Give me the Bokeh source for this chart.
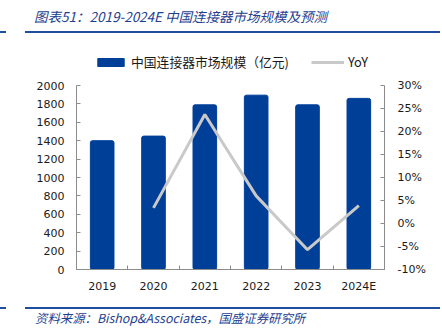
from bokeh.plotting import figure
from bokeh.models import (Range1d, LinearAxis, FixedTicker, PrintfTickFormatter,
                          Legend, LegendItem, ColumnDataSource, Div)
from bokeh.layouts import column
from bokeh.embed import file_html
from bokeh.resources import INLINE

years = ["2019", "2020", "2021", "2022", "2023", "2024E"]
market = [1400, 1450, 1790, 1895, 1790, 1860]
yoy_years = ["2020", "2021", "2022", "2023", "2024E"]
yoy = [3.4, 23.7, 6.0, -5.7, 3.9]

left_ticks = list(range(0, 2001, 200))
right_ticks = list(range(-10, 31, 5))

title_text = "图表51：2019-2024E 中国连接器市场规模及预测"
source_text = "资料来源：Bishop&Associates，国盛证券研究所"
bar_name = "中国连接器市场规模（亿元)"
line_name = "YoY"

BLUE = "#003F98"
GRAY = "#C9C9C9"
AX = "#8C8C8C"
TXT = "#1A1A1A"
HEAD = "#1F3F8F"
RULE = "#1F4E9E"

# layout (pixels)
HEAD_H = 40          # header div height
FIG_H = 260          # figure height
FOOT_H = 331 - HEAD_H - FIG_H
PLOT_TOP = 85        # y of 2000 / 30% in window
PLOT_BOT = 269       # y of 0 / -10% in window
FRAME_TOP = HEAD_H + 5
axis_px = PLOT_BOT - PLOT_TOP
frame_px = PLOT_BOT - FRAME_TOP
y0, y1 = left_ticks[0], left_ticks[-1]
r0, r1 = right_ticks[0], right_ticks[-1]
y_end = y0 + (y1 - y0) * frame_px / axis_px
r_end = r0 + (r1 - r0) * frame_px / axis_px

xpos = {y: i + 1 for i, y in enumerate(years)}
bar_src = ColumnDataSource(dict(x=[xpos[y] for y in years], v=market))
line_src = ColumnDataSource(dict(x=[xpos[y] for y in yoy_years], v=yoy))

p = figure(width=442, height=FIG_H, output_backend="svg", toolbar_location=None,
           x_range=Range1d(0.5, len(years) + 0.5), y_range=Range1d(y0, y_end),
           min_border_left=76, min_border_right=58,
           min_border_top=FRAME_TOP - HEAD_H,
           min_border_bottom=HEAD_H + FIG_H - PLOT_BOT,
           x_axis_type=None, y_axis_type=None, margin=0)
p.outline_line_color = None
p.xgrid.visible = False
p.ygrid.visible = False
p.background_fill_color = "white"
p.border_fill_color = "white"

p.extra_y_ranges = {"yoy": Range1d(r0, r_end)}

bars = p.vbar(x="x", top="v", width=0.46, source=bar_src, fill_color=BLUE,
              line_color=BLUE, border_radius=2)
ln = p.line(x="x", y="v", source=line_src, y_range_name="yoy", line_color=GRAY,
            line_width=3)

def style(ax, size="11px"):
    ax.axis_line_color = AX
    ax.major_tick_line_color = AX
    ax.minor_tick_line_color = AX
    ax.major_label_text_font = "DejaVu Sans"
    ax.major_label_text_font_size = size
    ax.major_label_text_color = TXT

xax = LinearAxis(ticker=FixedTicker(ticks=list(range(1, len(years) + 1)),
                                    minor_ticks=[i + 0.5 for i in range(len(years) + 1)]))
xax.major_label_overrides = {i + 1: y for i, y in enumerate(years)}
style(xax)
xax.major_tick_in = 0
xax.major_tick_out = 0
xax.minor_tick_in = 4
xax.minor_tick_out = 0
xax.major_label_standoff = 10
p.add_layout(xax, "below")

yl = LinearAxis(ticker=FixedTicker(ticks=left_ticks), bounds=(y0, y1))
style(yl)
yl.major_tick_in = 4
yl.major_tick_out = 0
yl.minor_tick_line_color = None
yl.major_label_standoff = 12
p.add_layout(yl, "left")

yr = LinearAxis(y_range_name="yoy", ticker=FixedTicker(ticks=right_ticks),
                formatter=PrintfTickFormatter(format="%d%%"), bounds=(r0, r1))
style(yr)
yr.major_tick_in = 4
yr.major_tick_out = 0
yr.minor_tick_line_color = None
yr.major_label_standoff = 13
p.add_layout(yr, "right")

legend = Legend(items=[LegendItem(label=bar_name, renderers=[bars]),
                       LegendItem(label=line_name, renderers=[ln])],
                orientation="horizontal", location=(18, 198),
                glyph_width=33, glyph_height=10, label_standoff=4, spacing=22,
                padding=0, margin=0, border_line_color=None,
                background_fill_alpha=0, label_text_font="Noto Sans CJK SC",
                label_text_font_size="12.8px", label_text_color=TXT)
p.add_layout(legend, "center")

def rule(top):
    return (f'<div style="position:absolute;left:0px;top:{top}px;width:6px;height:2px;background:{RULE};"></div>'
            f'<div style="position:absolute;left:25px;top:{top}px;width:415px;height:2px;background:{RULE};"></div>')

head_html = (f'<div style="position:relative;width:442px;height:{HEAD_H}px;">'
             f'<div style="position:absolute;left:34px;top:6px;white-space:nowrap;'
             f'font-family:\'Noto Sans CJK SC\';font-style:italic;font-size:13.5px;line-height:20px;color:{HEAD};">'
             f'{title_text}</div>' + rule(31) + '</div>')
foot_html = (f'<div style="position:relative;width:442px;height:{FOOT_H}px;">' + rule(7) +
             f'<div style="position:absolute;left:35px;top:9px;white-space:nowrap;'
             f'font-family:\'Noto Sans CJK SC\';font-style:italic;font-size:12.4px;line-height:18px;color:{HEAD};">'
             f'{source_text}</div></div>')

head = Div(text=head_html, width=442, height=HEAD_H, margin=0)
foot = Div(text=foot_html, width=442, height=FOOT_H, margin=0)

layout = column(head, p, foot, spacing=0, margin=0)
open("out.html", "w").write(file_html(layout, INLINE))
